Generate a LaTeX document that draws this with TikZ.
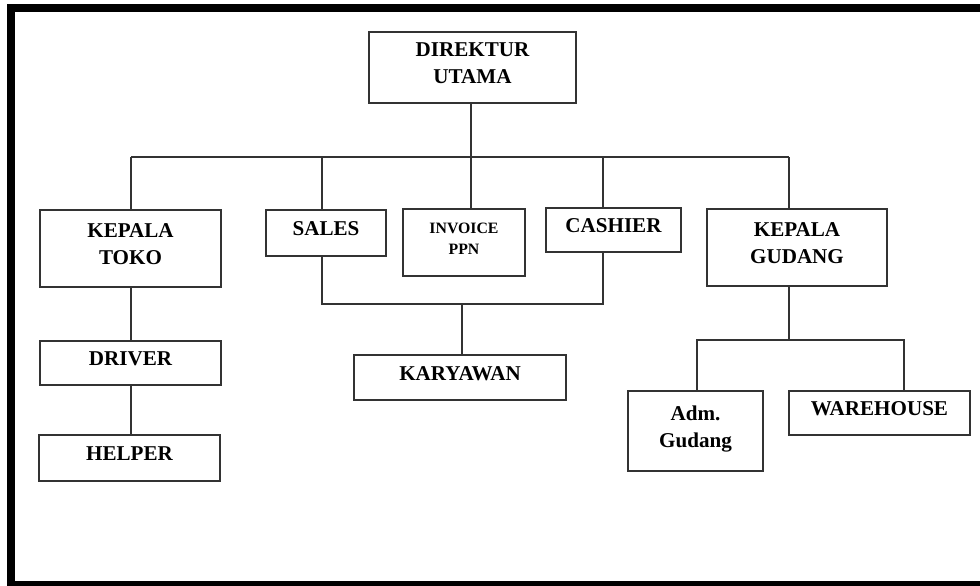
\documentclass[tikz,border=0pt]{standalone}
\usepackage{fontspec}
\setmainfont{Liberation Serif}
\usepackage{tikz}
\newcommand{\boxtext}[1]{\raisebox{1.5pt}[\height][\depth]{\begin{tabular}{@{}c@{}}#1\end{tabular}}}
\tikzset{
  unit/.style={draw=black!80,line width=0.6pt,inner sep=0pt,text=black,
    font=\bfseries\fontsize{12}{15.3}\selectfont},
  small/.style={font=\bfseries\fontsize{9}{12.3}\selectfont},
  link/.style={draw=black!80,line width=0.6pt}
}
\begin{document}
\begin{tikzpicture}[x=0.02cm,y=-0.02cm]
        \useasboundingbox (0,0) rectangle (980,585);
        \begin{scope}
          \clip (0,0) rectangle (980,585);
          \draw[line width=0.16cm] (11,8) rectangle (1000,585);
        \end{scope}
        % boxes
        \node[unit,minimum width=207*0.02cm,minimum height=71*0.02cm] (dir) at (472.5,67.5) {\boxtext{DIREKTUR\\UTAMA}};
        \node[unit,minimum width=181*0.02cm,minimum height=77*0.02cm] (kt) at (130.5,248.5) {\boxtext{KEPALA\\TOKO}};
        \node[unit,minimum width=120*0.02cm,minimum height=46*0.02cm] (sales) at (326,233) {\boxtext{SALES}};
        \node[unit,small,minimum width=122*0.02cm,minimum height=67*0.02cm] (inv) at (464,242.5) {\boxtext{INVOICE\\PPN}};
        \node[unit,minimum width=135*0.02cm,minimum height=44*0.02cm] (cash) at (613.5,230) {\boxtext{CASHIER}};
        \node[unit,minimum width=180*0.02cm,minimum height=77*0.02cm] (kg) at (797,247.5) {\boxtext{KEPALA\\GUDANG}};
        \node[unit,minimum width=212*0.02cm,minimum height=45*0.02cm] (kar) at (460,377.5) {\boxtext{KARYAWAN}};
        \node[unit,minimum width=181*0.02cm,minimum height=44*0.02cm] (drv) at (130.5,363) {\boxtext{DRIVER}};
        \node[unit,minimum width=181*0.02cm,minimum height=46*0.02cm] (hlp) at (129.5,458) {\boxtext{HELPER}};
        \node[unit,minimum width=135*0.02cm,minimum height=80*0.02cm] (adm) at (695.5,431) {\boxtext{Adm.\\Gudang}};
        \node[unit,minimum width=181*0.02cm,minimum height=44*0.02cm] (wh) at (879.5,413) {\boxtext{WAREHOUSE}};
        % junctions
        \coordinate (top) at (471,157);
        \coordinate (j1) at (131,157);
        \coordinate (j2) at (322,157);
        \coordinate (j3) at (471,157);
        \coordinate (j4) at (603,157);
        \coordinate (j5) at (789,157);
        \coordinate (s1) at (322,304);
        \coordinate (s2) at (603,304);
        \coordinate (s3) at (462,304);
        \coordinate (g0) at (789,340);
        \coordinate (g1) at (697,340);
        \coordinate (g2) at (904,340);
        % lines
        \draw[link] (dir.south -| top) -- (top);
        \draw[link] (j1) -- (j5);
        \draw[link] (j1) -- (j1 |- kt.north);
        \draw[link] (j2) -- (j2 |- sales.north);
        \draw[link] (j3) -- (j3 |- inv.north);
        \draw[link] (j4) -- (j4 |- cash.north);
        \draw[link] (j5) -- (j5 |- kg.north);
        \draw[link] (s1 |- sales.south) -- (s1) -- (s2) -- (s2 |- cash.south);
        \draw[link] (s3) -- (s3 |- kar.north);
        \draw[link] (kt.south -| j1) -- (drv.north -| j1);
        \draw[link] (drv.south -| j1) -- (hlp.north -| j1);
        \draw[link] (g0 |- kg.south) -- (g0);
        \draw[link] (g1 |- adm.north) -- (g1) -- (g2) -- (g2 |- wh.north);
\end{tikzpicture}
\end{document}
